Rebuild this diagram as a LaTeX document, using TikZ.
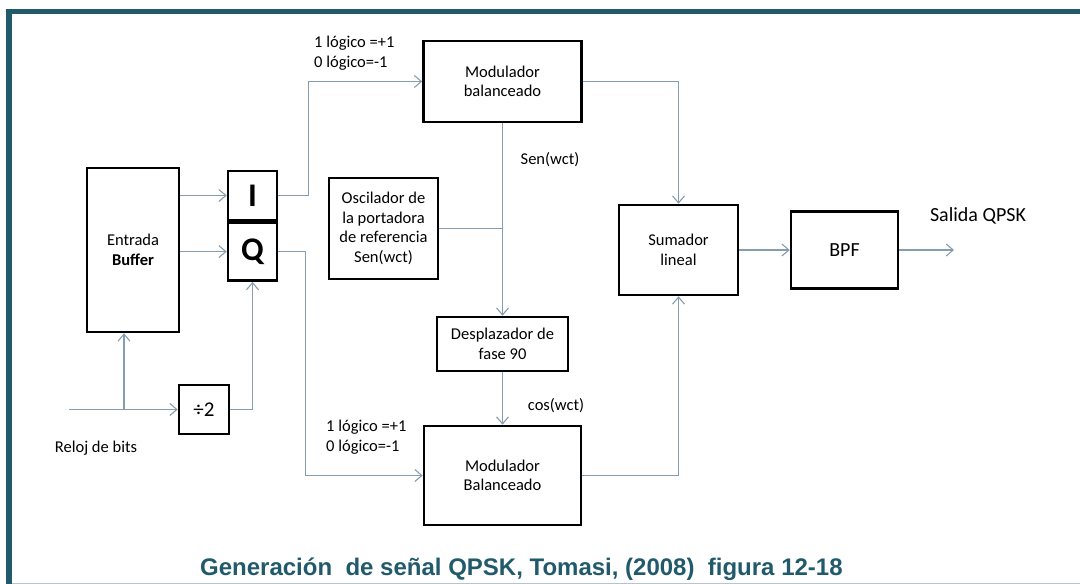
\documentclass[tikz,border=0pt]{standalone}
\usepackage{fontspec}
\setmainfont{Carlito}
\newfontfamily\capfont{Liberation Sans}
\usepackage{tikz}
\usetikzlibrary{positioning,arrows.meta}

\definecolor{marco}{HTML}{215A6B}
\definecolor{linea}{HTML}{859DAE}

\begin{document}
\begin{tikzpicture}[x=1pt,y=-1pt,
    main/.style = {draw, line width=2.6pt, align=center, inner sep=0pt,
                   font=\fontsize{16.5}{19.5}\selectfont},
    letra/.style = {main, font=\fontsize{33}{33}\selectfont\bfseries},
    txt/.style = {inner sep=0pt, align=left, font=\fontsize{16.5}{20}\selectfont},
    conn/.style = {draw=linea, line width=1.1pt},
    flecha/.style = {conn, -{Straight Barb[length=7pt,width=12pt,line width=1.1pt]}}]
    \useasboundingbox (0,0) rectangle (1080,584);
    % marco
    \fill[marco] (6,9) rectangle (1080,14);
    \fill[marco] (6,9) rectangle (12,584);
    \draw[linea!60, line width=0.8pt] (12,583.4) -- (1080,583.4);

    % bloques
    \node[main, minimum width=92pt, minimum height=164pt] (buf) at (133,250)
        {Entrada\\\textbf{Buffer}};
    \node[letra, minimum width=49pt, minimum height=49pt] (I) at (252.5,195.5) {I};
    \node[letra, minimum width=49pt, minimum height=58pt, below=0pt of I] (Q) {Q};
    \node[main, minimum width=50pt, minimum height=49pt,
          font=\fontsize{21}{21}\selectfont] (div) at (204,409.5) {\symbol{"00F7}2};
    \node[main, minimum width=158pt, minimum height=81pt] (modA) at (502.5,81.5)
        {Modulador\\balanceado};
    \node[main, minimum width=109pt, minimum height=101pt] (osc) at (383.5,228.5)
        {Oscilador de\\la portadora\\de referencia\\Sen(wct)};
    \node[main, minimum width=131pt, minimum height=54pt] (desp) at (502.5,344)
        {Desplazador de\\fase 90};
    \node[main, minimum width=157pt, minimum height=99pt] (modB) at (502.5,475.5)
        {Modulador\\Balanceado};
    \node[main, minimum width=119pt, minimum height=90pt] (sum) at (678.5,250)
        {Sumador\\lineal};
    \node[main, minimum width=107pt, minimum height=77pt,
          font=\fontsize{20}{20}\selectfont] (bpf) at (844.5,250) {BPF};

    % textos
    \node[txt, anchor=north west] (logA) at (314,36) {1 lógico =+1\\0 lógico=-1};
    \node[txt, anchor=north west] (logB) at (326,420) {1 lógico =+1\\0 lógico=-1};
    \node[txt] (sen) at (550,160) {Sen(wct)};
    \node[txt] (cos) at (556,406) {cos(wct)};
    \node[txt, font=\fontsize{20}{20}\selectfont] (sal) at (978,216) {Salida QPSK};
    \node[txt] (reloj) at (96,448) {Reloj de bits};
    \node[inner sep=0pt, anchor=base west, text=marco,
          font=\capfont\fontsize{24}{24}\selectfont\bfseries]
        (cap) at (200,575) {Generación\ \ de señal QPSK, Tomasi, (2008)\ \ figura 12-18};

    \coordinate (clk) at (69,409.5);
    \coordinate (rama) at (124,409.5);
    \coordinate (out) at (954,250);

    % conexiones
    \draw[flecha] (buf.east |- I.west) -- (I.west);
    \draw[flecha] (buf.east |- Q.west) -- (Q.west);
    \draw[flecha] (clk) -- (div.west);
    \draw[flecha] (rama) -- (rama |- buf.south);
    \draw[flecha] (div.east) -| (Q.south);
    \draw[flecha] (I.east) -- ++(30,0) |- (modA.west);
    \draw[flecha] (Q.east) -- ++(27,0) |- (modB.west);
    \draw[flecha] (modA.south) -- (desp.north);
    \draw[conn] (osc.east) -- (osc.east -| desp.north);
    \draw[flecha] (desp.south) -- (modB.north);
    \draw[flecha] (modA.east) -| (sum.north);
    \draw[flecha] (modB.east) -| (sum.south);
    \draw[flecha] (sum.east) -- (bpf.west);
    \draw[flecha] (bpf.east) -- (out);
\end{tikzpicture}
\end{document}
